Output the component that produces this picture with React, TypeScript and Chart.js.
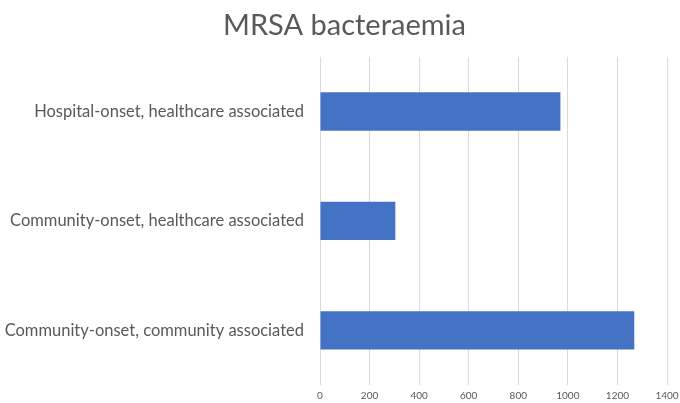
import React, { useEffect, useRef } from "react";
import { Chart, registerables } from "chart.js";

Chart.register(...registerables);

const categories: string[] = [
  "Hospital-onset, healthcare associated",
  "Community-onset, healthcare associated",
  "Community-onset, community associated",
];
const values: number[] = [970, 304, 1268];
const titleText = "MRSA bacteraemia";
const xMin = 0;
const xMax = 1400;
const xStep = 200;

export default function App() {
  const ref = useRef<HTMLCanvasElement | null>(null);
  useEffect(() => {
    document.body.style.margin = "0";
    const ctx = ref.current!;
    const chart = new Chart(ctx, {
      type: "bar",
      data: {
        labels: categories,
        datasets: [
          {
            data: values,
            backgroundColor: "#4472C4",
            borderWidth: 0,
            categoryPercentage: 1,
            barPercentage: 0.35,
          },
        ],
      },
      options: {
        indexAxis: "y",
        animation: false,
        responsive: false,
        layout: { padding: { left: 0, right: 13, top: 0, bottom: 0 } },
        plugins: {
          legend: { display: false },
          tooltip: { enabled: false },
          title: {
            display: true,
            text: "\u2002 " + titleText,
            color: "#595959",
            font: { family: "Lato", size: 29, weight: "normal" },
            padding: { top: 8, bottom: 14 },
          },
        },
        scales: {
          x: {
            min: xMin,
            max: xMax,
            ticks: {
              stepSize: xStep,
              color: "#595959",
              font: { family: "Lato", size: 10 },
              padding: 5,
              maxRotation: 0,
              callback: (v: any) => String(v),
            },
            grid: { color: "#d9d9d9", drawTicks: false },
            border: { display: false },
            afterFit: (s: any) => {
              s.height = 18;
              s.paddingLeft = 0;
              s.paddingRight = 0;
            },
          },
          y: {
            ticks: {
              color: "#595959",
              font: { family: "Lato", size: 16.5 },
              padding: 16,
            },
            grid: { display: false, drawTicks: false },
            border: { display: false },
            afterFit: (s: any) => {
              s.width = 320;
              s.paddingTop = 0;
              s.paddingBottom = 0;
            },
          },
        },
      },
    });
    return () => chart.destroy();
  }, []);
  return (
    <div style={{ position: "fixed", left: 0, top: 0, width: 680, height: 403 }}>
      <canvas ref={ref} width={680} height={403} />
    </div>
  );
}
